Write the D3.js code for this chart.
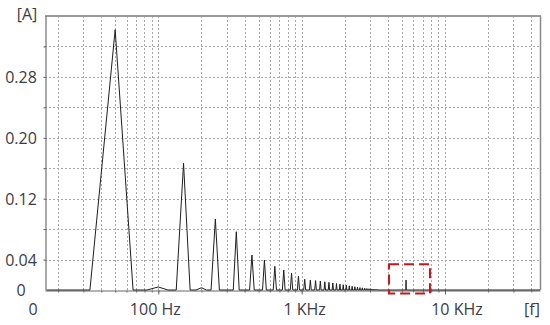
<!DOCTYPE html>
<html>
<head>
<meta charset="utf-8">
<script src="https://cdn.jsdelivr.net/npm/d3@7"></script>
<style>
    html, body { margin: 0; padding: 0; background: #fff; }
    svg { display: block; }
    .label { font-family: "Open Sans", sans-serif; font-size: 16px; fill: #3c3c46; }
    .grid line { stroke: #a8a8a8; stroke-width: 1; stroke-dasharray: 2,2; }
</style>
</head>
<body>
<svg id="chart"></svg>
<script>
// Harmonic spectrum of a current, log frequency axis

// FFT bin spacing (Hz)
const binWidth = 50 / 3;

// Harmonic peaks
const harmonicFreqs = [50, 100, 150, 200, 250, 350, 450, 550, 650, 750, 850, 950,
    1050, 1150, 1250, 1350, 1450, 1550, 1650, 1750, 1850, 1950, 2050, 2150, 2250,
    2350, 2450, 2550, 2650, 2750, 2850, 2950, 3050, 3150, 3250, 3350, 5350];
const harmonicAmps = [0.342, 0.004, 0.1665, 0.003, 0.0933, 0.0766, 0.046, 0.0394,
    0.0311, 0.0263, 0.0219, 0.018, 0.0141, 0.013, 0.0124, 0.0116, 0.0108, 0.01,
    0.0092, 0.0085, 0.0077, 0.0069, 0.0062, 0.0055, 0.0049, 0.0043, 0.0037, 0.0032,
    0.0028, 0.0024, 0.002, 0.0017, 0.0014, 0.0012, 0.001, 0.0008, 0.013];

// Axis ticks and labels
const yLabelValues = [0, 0.04, 0.12, 0.20, 0.28];
const yLabelTexts = ["0", "0.04", "0.12", "0.20", "0.28"];
const yGridValues = [0.04, 0.08, 0.12, 0.16, 0.20, 0.24, 0.28, 0.32];
const xLabelFreqs = [100, 1000, 10000];
const xLabelTexts = ["100 Hz", "1 KHz", "10 KHz"];
const xLabelShift = [-3, 3, 12];

// Highlighted region (frequency range and amplitude range)
const markFreqs = [4070, 7860];
const markAmps = [-0.0045, 0.0338];

class SpectrumChart {
    constructor() {
        this.width = 550;
        this.height = 325;
        this.left = 45;
        this.right = 540;
        this.top = 16;
        this.bottom = 290;

        this.svg = d3.select("#chart")
            .attr("width", this.width)
            .attr("height", this.height);

        this.x = d3.scaleLog().domain([16.2, 46000]).range([this.left, this.right]);
        this.y = d3.scaleLinear().domain([0, 0.36]).range([this.bottom, this.top]);

        this.drawGrid();
        this.drawAxes();
        this.drawSpectrum();
        this.drawMark();
        this.drawLabels();
    }

    minorFreqs() {
        const [lo, hi] = this.x.domain();
        const out = [];
        [10, 100, 1000, 10000].forEach(d => {
            for (let m = 1; m <= 9; m++) {
                const v = m * d;
                if (v > lo && v < hi) out.push(v);
            }
        });
        return out;
    }

    drawGrid() {
        const g = this.svg.append("g").attr("class", "grid");

        g.selectAll(".vgrid")
            .data(this.minorFreqs())
            .enter().append("line")
            .attr("x1", d => Math.round(this.x(d)) + 0.5)
            .attr("x2", d => Math.round(this.x(d)) + 0.5)
            .attr("y1", this.top)
            .attr("y2", this.bottom);

        g.selectAll(".hgrid")
            .data(yGridValues)
            .enter().append("line")
            .attr("x1", this.left)
            .attr("x2", this.right)
            .attr("y1", d => Math.round(this.y(d)) + 0.5)
            .attr("y2", d => Math.round(this.y(d)) + 0.5);
    }

    drawAxes() {
        // Frame: top and right in light gray
        this.svg.append("line")
            .attr("x1", this.left).attr("x2", this.right + 1)
            .attr("y1", this.top).attr("y2", this.top)
            .attr("stroke", "#9a9a9a").attr("stroke-width", 2);
        this.svg.append("line")
            .attr("x1", this.right + 0.5).attr("x2", this.right + 0.5)
            .attr("y1", this.top).attr("y2", this.bottom)
            .attr("stroke", "#8a8a8a").attr("stroke-width", 1.5);

        // Left axis with small outer ticks
        const yAxis = d3.axisLeft(this.y)
            .tickValues(yGridValues)
            .tickSize(2)
            .tickSizeOuter(0)
            .tickFormat("");
        const ya = this.svg.append("g")
            .attr("transform", `translate(${this.left + 0.5},0)`)
            .call(yAxis);
        ya.selectAll("path, line").attr("stroke", "#555");

        // Bottom axis, minor ticks then decade ticks
        const xAxis = d3.axisBottom(this.x)
            .tickValues(this.minorFreqs())
            .tickSize(2)
            .tickSizeOuter(0)
            .tickFormat("");
        const xa = this.svg.append("g")
            .attr("transform", `translate(0,${this.bottom + 0.5})`)
            .call(xAxis);
        xa.selectAll("path, line").attr("stroke", "#666");

        const xMajor = d3.axisBottom(this.x)
            .tickValues(xLabelFreqs)
            .tickSize(4)
            .tickSizeOuter(0)
            .tickFormat("");
        const xm = this.svg.append("g")
            .attr("transform", `translate(0,${this.bottom + 0.5})`)
            .call(xMajor);
        xm.select(".domain").remove();
        xm.selectAll("line").attr("stroke", "#666");
    }

    buildSeries() {
        // Each harmonic sits on one FFT bin, neighbouring bins are empty
        const [lo, hi] = this.x.domain();
        const pts = [[binWidth, 0]];
        harmonicFreqs.forEach((f, i) => {
            pts.push([f - binWidth, 0]);
            pts.push([f, harmonicAmps[i]]);
            pts.push([f + binWidth, 0]);
        });
        pts.push([hi, 0]);
        return pts;
    }

    drawSpectrum() {
        const line = d3.line()
            .x(d => this.x(d[0]))
            .y(d => this.y(d[1]));

        this.svg.append("path")
            .datum(this.buildSeries())
            .attr("fill", "none")
            .attr("stroke", "#1e1e1e")
            .attr("stroke-width", 1)
            .attr("d", line);
    }

    drawMark() {
        const x0 = this.x(markFreqs[0]);
        const x1 = this.x(markFreqs[1]);
        const y0 = this.y(markAmps[1]);
        const y1 = this.y(markAmps[0]);
        this.svg.append("rect")
            .attr("x", x0).attr("y", y0)
            .attr("width", x1 - x0).attr("height", y1 - y0)
            .attr("fill", "none")
            .attr("stroke", "#c8161d")
            .attr("stroke-width", 2)
            .attr("stroke-dasharray", "10,5");
    }

    drawLabels() {
        // Y labels
        this.svg.selectAll(".ylab")
            .data(yLabelValues)
            .enter().append("text")
            .attr("class", "label")
            .attr("x", 21)
            .attr("y", d => this.y(d) + 6)
            .attr("text-anchor", "middle")
            .text((d, i) => yLabelTexts[i]);

        this.svg.append("text")
            .attr("class", "label")
            .attr("x", 27).attr("y", 20)
            .attr("text-anchor", "middle")
            .text("[A]");

        // X labels
        const baseY = 315;
        this.svg.append("text")
            .attr("class", "label")
            .attr("x", this.left - 12).attr("y", baseY)
            .attr("text-anchor", "middle")
            .text("0");

        this.svg.selectAll(".xlab")
            .data(xLabelFreqs)
            .enter().append("text")
            .attr("class", "label")
            .attr("x", (d, i) => this.x(d) + xLabelShift[i])
            .attr("y", baseY)
            .attr("text-anchor", "middle")
            .text((d, i) => xLabelTexts[i]);

        this.svg.append("text")
            .attr("class", "label")
            .attr("x", 532).attr("y", baseY)
            .attr("text-anchor", "middle")
            .text("[f]");
    }
}

new SpectrumChart();
</script>
</body>
</html>
